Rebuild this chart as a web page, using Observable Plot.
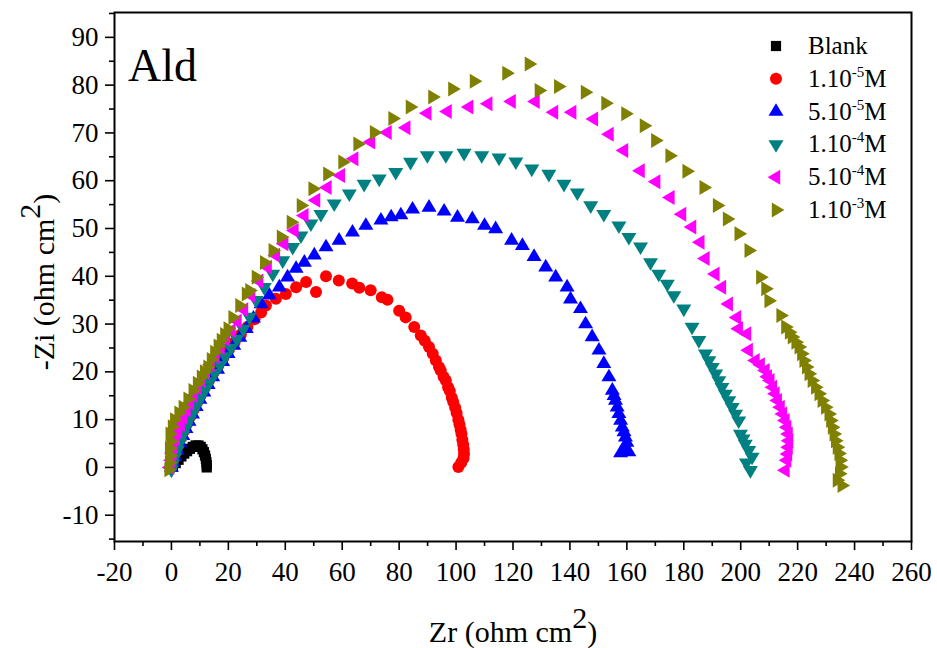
<!DOCTYPE html>
<html>
<head>
<meta charset="utf-8">
<script src="https://cdn.jsdelivr.net/npm/d3@7"></script>
<script src="https://cdn.jsdelivr.net/npm/@observablehq/plot@0.6"></script>
<style>
  html, body { margin: 0; padding: 0; background: #fff; }
  #chart { width: 937px; height: 648px; }
  #chart svg text { font-family: "Liberation Serif", "Times New Roman", serif !important; }
</style>
</head>
<body>
<div id="chart"></div>
<script>
// ---- Data (Zr, -Zi) in ohm cm^2 ----
const seriesNames = ["Blank", "1.10-5M", "5.10-5M", "1.10-4M", "5.10-4M", "1.10-3M"];
const seriesColors = ["#000000", "#ff0000", "#0000ff", "#008080", "#ff00ff", "#808000"];
const legendBase = ["Blank", "1.10", "5.10", "1.10", "5.10", "1.10"];
const legendExp = ["", "-5", "-5", "-4", "-4", "-3"];

const blank = [[0.5,0.2],[1.5,0.9],[2.5,1.6],[3.5,2.3],[4.5,2.9],[5.5,3.4],[6.5,3.9],[7.5,4.3],[8.5,4.6],[9.5,4.6],[10.3,4.3],[10.9,3.8],[11.4,3.2],[11.8,2.5],[12.1,1.8],[12.3,1.1],[12.4,0.5],[12.4,0]];

const c1e5 = [[0,0.3],[0.5,1.2],[1,2.2],[1.8,3.4],[2.6,4.8],[3.5,6.2],[4.5,7.7],[5.5,9.1],[6.6,10.6],[7.8,12.1],[9,13.6],[10.3,15.1],[11.7,16.6],[13.2,18.2],[14.8,19.8],[16.5,21.4],[18.3,23],[20.2,24.6],[22.2,26.2],[24.4,27.8],[26.7,29.4],[29.2,31],[31.5,32.4],[33.2,33.9],[36.7,35.3],[40.2,36.3],[43.8,37.7],[47.3,38.8],[50.8,36.7],[54.3,40],[58.8,39.1],[63.5,38.5],[66,37.6],[70,37.1],[73.9,35.6],[75.9,35.1],[80,32.8],[82.3,31.4],[85.3,29.4],[87.6,27.6],[89,26.5],[90.5,25.2],[91.8,23.8],[92.9,22.4],[94,21],[94.6,20.3],[95.6,19],[96.4,18.2],[97.2,16.8],[97.8,16],[98.5,14.6],[99,13.7],[99.7,12.5],[100.2,11.4],[100.8,10],[101.2,9],[101.6,7.9],[101.9,7],[102.2,5.8],[102.5,4.8],[102.7,3.8],[102.8,2.8],[102.6,1.9],[101.8,1],[100.8,0.1]];

const c5e5 = [[0,0],[0.5,1],[1.2,2.3],[2,3.6],[3,5.1],[4,6.6],[5.1,8.1],[6.2,9.6],[7.4,11.1],[8.7,12.7],[10,14.2],[11.4,15.7],[12.9,17.3],[14.5,18.9],[16.2,20.5],[18,22.1],[19.9,23.8],[21.9,25.5],[24,27.2],[26.3,29],[28.8,31.2],[31.5,34.2],[34.4,36],[37.9,37.7],[40.8,39.8],[43.8,41.6],[46.7,42.9],[50.2,44.4],[54.3,46.1],[58.9,47.5],[63.6,49.2],[68.3,50.6],[73.6,51.7],[77.2,52.4],[80.6,52.8],[84.7,54],[90.5,54.4],[95.8,53.6],[100.5,52.3],[105.7,52],[110,50.6],[113.9,49.9],[119.5,47.5],[123.3,46.4],[127.4,44.1],[131.5,41.9],[135,39.8],[139,37.7],[140.2,35.2],[143.7,33.2],[145.5,30],[147.8,27.3],[150.2,24.5],[151.9,21.7],[153.7,18.9],[154.9,16.1],[155.5,15],[156,14],[156.6,12.6],[157.2,11.2],[157.8,9.8],[158.4,8.4],[159,7.4],[159.5,6.3],[160,5.2],[159.5,4.2],[158.5,3.5],[160.7,3.2],[157.8,3]];

const c1e4 = [[0,-0.5],[0.5,0.8],[1.2,2.2],[2,3.6],[3,5.2],[4,6.8],[5.1,8.4],[6.3,10],[7.6,11.6],[9,13.2],[10.4,14.8],[11.9,16.4],[13.5,18],[15.2,19.7],[17,21.4],[18.9,23.2],[20.9,25],[23,26.9],[25.2,29],[27.4,31.5],[29.7,35],[32.6,37.7],[35.6,40.5],[39.1,43.3],[42.6,46.1],[45.5,48.5],[49,51],[52.5,53],[57.2,55.2],[62.5,57.3],[67.7,59.3],[73,60.4],[78.8,61.8],[84,63.9],[89.9,65.3],[96.4,65.3],[102.8,65.8],[109,65.3],[115.1,64.8],[121,64],[126.6,62.5],[132.6,61.4],[137.9,59.3],[142.6,57.5],[147.3,54.8],[151.9,53],[157.2,50.6],[160.7,48.2],[164.8,46.2],[168.3,42.9],[171.2,40.5],[174.2,38.4],[176.5,36],[180,33.2],[182.9,29.4],[185.3,26.6],[187.6,23.8],[188.8,22.4],[190,21],[191.2,19.6],[192.3,18.2],[193.4,16.8],[194.6,15.4],[195.8,14],[197,12.6],[198.2,11.2],[199.3,9.8],[199.9,7],[200.8,6],[201.6,4.9],[202.8,3.6],[204,2.2],[202,1],[203.4,-0.6]];

const c5e4 = [[-0.5,0],[0,1.5],[0.3,3],[0.8,4.5],[1.5,6],[2.3,7.5],[3.2,9],[4.2,10.5],[5.3,12],[6.5,13.5],[7.8,15],[9.2,16.6],[10.6,18.2],[12.1,19.8],[13.7,21.5],[15.4,23.2],[17.2,25],[19.1,26.8],[21.1,28.6],[23.2,30.6],[25.5,33],[28,36],[30.8,39],[33.8,41.9],[36.7,44.4],[39.6,46.8],[43.2,49.6],[46.7,52.7],[50.8,55.9],[54.8,58.6],[59.5,61.1],[64.2,64.6],[70.1,68.1],[75.9,70.1],[82.5,71.1],[89.9,74.1],[97,74.5],[104.6,75.4],[111.3,76.1],[119.5,76.6],[127.9,76.6],[134.4,74.3],[140.8,74.3],[148.4,72.9],[153.9,69.7],[159,66.3],[164.8,62.1],[170.3,59.8],[175.3,56.5],[179.4,53],[182.9,50.3],[185.8,47.1],[187.6,43.7],[191.1,40.5],[193.4,37.7],[195.8,34.2],[198.7,31.4],[199.3,29],[202.2,28],[202.8,24.5],[205.2,22.4],[207,21.5],[208.7,20.3],[209.5,19],[210.4,18.2],[211.3,16.8],[212.2,15.4],[213,14],[214,12.6],[214.8,11.2],[215.7,9.8],[216.3,8.4],[216.8,7],[217,5.6],[216.8,4.2],[216.6,2.8],[216.3,1.5],[215.7,-0.6]];

const c1e3 = [[-1,-0.5],[-0.8,1],[-0.5,2.5],[-0.8,4],[-0.3,5.5],[-0.6,7],[0.2,8.5],[1,10],[2.5,11.4],[4,12.6],[5.7,14.3],[7.5,16.1],[9,17.6],[10.4,18.9],[11.5,20],[12.7,21],[13.9,22.6],[15.1,24.1],[16.3,25.4],[17.4,26.6],[18.6,27.8],[19.8,29],[21.5,31.4],[23.9,33.9],[26.2,36.3],[27.4,37],[29.7,39.8],[32.6,42.9],[35.6,45.4],[38.5,48.2],[42,51.3],[45.5,54.8],[49.6,58.3],[54.8,61.4],[60.1,63.9],[65.4,67.7],[71.2,70.1],[77.7,73],[83.8,75.4],[91.7,77.5],[98.7,79.2],[106.3,80.8],[117.7,82.5],[125.6,84.4],[129.1,78.9],[135.9,79.7],[145.3,78.5],[152.5,76.2],[159.5,74],[166,71.5],[170,68.4],[175,65.2],[181,62],[187,58.6],[191.7,54.8],[195.2,52],[199.3,48.9],[202.8,45.4],[206.9,39.8],[208.7,37.4],[209.8,34.9],[214,31.8],[215.7,29.4],[217,28.3],[218,27.3],[219.3,26.2],[220.4,25.2],[221.3,23.8],[222.1,22.4],[223,21],[223.9,19.6],[225,18.2],[226.2,16.8],[227.4,15.4],[228.5,14],[229.7,12.6],[230.9,11.2],[231.5,9.8],[232.1,8.4],[232.7,7],[233.2,5.6],[233.8,4.2],[234.4,2.9],[234.8,1.5],[235,0.1],[234.6,-1.3],[233.8,-2.7],[235.5,-3.8]];

const xMajor = [-20,0,20,40,60,80,100,120,140,160,180,200,220,240,260];
const xMinor = [-10,10,30,50,70,90,110,130,150,170,190,210,230,250];
const yMajor = [-10,0,10,20,30,40,50,60,70,80,90];
const yMinor = [-15,-5,5,15,25,35,45,55,65,75,85,95];

// ---- Custom marker shapes (size = pi r^2) ----
const rad = s => Math.sqrt(s / Math.PI);
const symSquare = {draw(c, s) { const h = rad(s) * 0.85; c.rect(-h, -h, 2*h, 2*h); }};
const symUp = {draw(c, s) { const r = rad(s), w = 1.25*r, H = 2.1*r; c.moveTo(0, -2*H/3); c.lineTo(w, H/3); c.lineTo(-w, H/3); c.closePath(); }};
const symDown = {draw(c, s) { const r = rad(s), w = 1.25*r, H = 2.1*r; c.moveTo(0, 2*H/3); c.lineTo(w, -H/3); c.lineTo(-w, -H/3); c.closePath(); }};
const symLeft = {draw(c, s) { const r = rad(s), w = 1.25*r, H = 2.1*r; c.moveTo(-2*H/3, 0); c.lineTo(H/3, w); c.lineTo(H/3, -w); c.closePath(); }};
const symRight = {draw(c, s) { const r = rad(s), w = 1.25*r, H = 2.1*r; c.moveTo(2*H/3, 0); c.lineTo(-H/3, w); c.lineTo(-H/3, -w); c.closePath(); }};
const symbols = [symSquare, "circle", symUp, symDown, symLeft, symRight];
const datasets = [blank, c1e5, c5e5, c1e4, c5e4, c1e3];
const R = 6;
const serif = "Liberation Serif, Times New Roman, serif";

const dotMark = i => Plot.dot(datasets[i], {x: d => d[0], y: d => d[1], r: R, symbol: symbols[i], fill: seriesColors[i], stroke: "none"});

const plot = Plot.plot({
  width: 937, height: 648,
  marginLeft: 114, marginRight: 26, marginTop: 12, marginBottom: 107,
  x: {domain: [-20, 260]},
  y: {domain: [-15.5, 95.2]},
  style: {fontFamily: serif, fontSize: "27px", color: "black", background: "white"},
  marks: [
    Plot.axisX({ticks: xMajor, tickSize: 9, tickPadding: 11, tickFormat: d => String(d), label: null, strokeWidth: 1.6, fontSize: 27, fontFamily: serif}),
    Plot.axisX({ticks: xMinor, tickSize: 5, tickFormat: () => "", label: null, strokeWidth: 1.6}),
    Plot.axisY({ticks: yMajor, tickSize: 9, tickPadding: 7, tickFormat: d => String(d), label: null, strokeWidth: 1.6, fontSize: 27, fontFamily: serif}),
    Plot.axisY({ticks: yMinor, tickSize: 5, tickFormat: () => "", label: null, strokeWidth: 1.6}),
    dotMark(0), dotMark(1), dotMark(2), dotMark(3), dotMark(4), dotMark(5),
    Plot.frame({stroke: "black", strokeWidth: 2})
  ]
});

document.getElementById("chart").appendChild(plot);

// ---- Annotations: axis titles, panel label, legend ----
const svg = d3.select(plot);

const xt = svg.append("text").attr("x", 513).attr("y", 642).attr("text-anchor", "middle")
  .attr("font-family", serif).attr("font-size", 30).attr("fill", "black");
xt.append("tspan").text("Zr (ohm cm");
xt.append("tspan").attr("dy", -14).attr("font-size", 30).text("2");
xt.append("tspan").attr("dy", 14).text(")");

const yt = svg.append("text").attr("transform", "translate(54,282) rotate(-90)").attr("text-anchor", "middle")
  .attr("font-family", serif).attr("font-size", 30).attr("fill", "black");
yt.append("tspan").text("-Zi (ohm cm");
yt.append("tspan").attr("dy", -14).attr("font-size", 30).text("2");
yt.append("tspan").attr("dy", 14).text(")");

svg.append("text").attr("x", 128).attr("y", 81).attr("text-anchor", "start").attr("font-family", serif)
  .attr("font-size", 46).attr("fill", "black").text("Ald");

const lg = svg.append("g");
seriesNames.forEach((name, i) => {
  const cy = 46 + i * 32.8;
  lg.append("path").attr("transform", `translate(776,${cy})`)
    .attr("d", d3.symbol(typeof symbols[i] === "string" ? d3.symbolCircle : symbols[i], Math.PI * R * R)())
    .attr("fill", seriesColors[i]);
  const t = lg.append("text").attr("x", 808).attr("y", cy + 8).attr("text-anchor", "start")
    .attr("font-family", serif).attr("font-size", 25).attr("fill", "black");
  t.append("tspan").text(legendBase[i]);
  if (legendExp[i]) {
    t.append("tspan").attr("dy", -10).attr("font-size", 15).text(legendExp[i]);
    t.append("tspan").attr("dy", 10).text("M");
  }
});
</script>
</body>
</html>
